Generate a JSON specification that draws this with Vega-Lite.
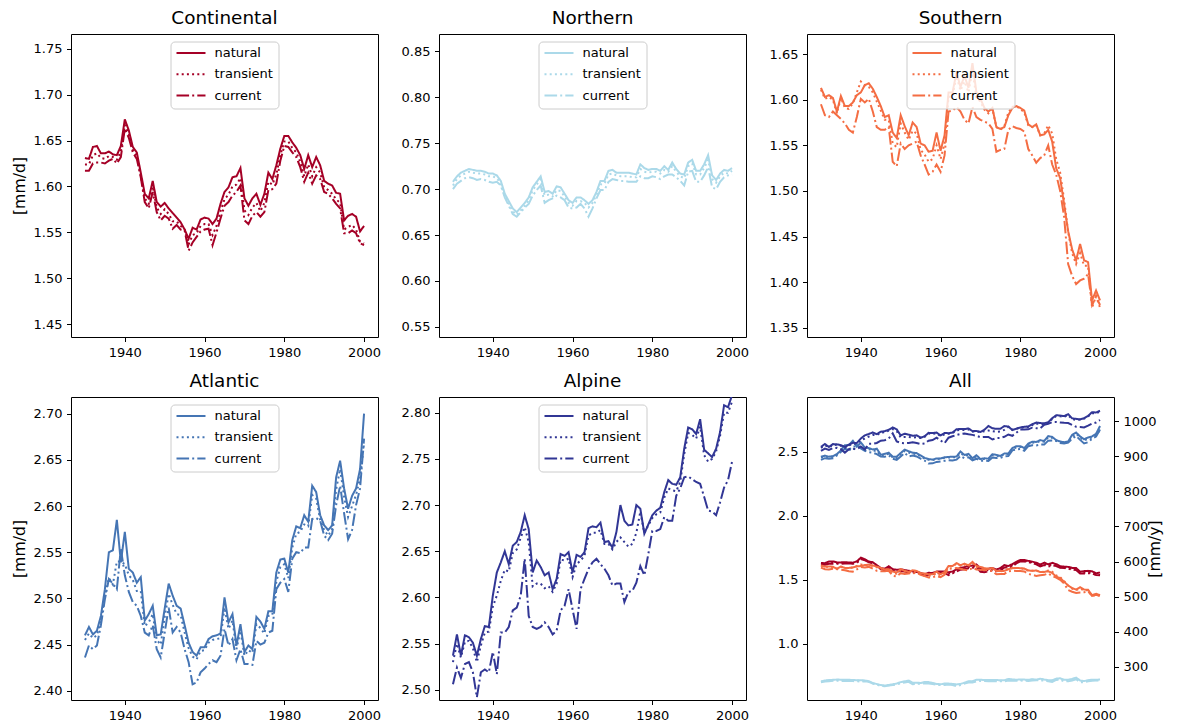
{
  "$schema": "https://vega.github.io/schema/vega-lite/v6.json",
  "padding": {"left": 10, "top": 8, "right": 4, "bottom": 4},
  "data": {
    "values": [
      {"region":"Continental","year":1930,"natural":1.631,"transient":1.624,"current":1.617},
      {"region":"Continental","year":1931,"natural":1.630,"transient":1.624,"current":1.617},
      {"region":"Continental","year":1932,"natural":1.643,"transient":1.634,"current":1.625},
      {"region":"Continental","year":1933,"natural":1.644,"transient":1.636,"current":1.626},
      {"region":"Continental","year":1934,"natural":1.636,"transient":1.631,"current":1.626},
      {"region":"Continental","year":1935,"natural":1.636,"transient":1.630,"current":1.625},
      {"region":"Continental","year":1936,"natural":1.638,"transient":1.633,"current":1.628},
      {"region":"Continental","year":1937,"natural":1.635,"transient":1.632,"current":1.630},
      {"region":"Continental","year":1938,"natural":1.634,"transient":1.629,"current":1.625},
      {"region":"Continental","year":1939,"natural":1.644,"transient":1.638,"current":1.632},
      {"region":"Continental","year":1940,"natural":1.673,"transient":1.667,"current":1.663},
      {"region":"Continental","year":1941,"natural":1.661,"transient":1.657,"current":1.653},
      {"region":"Continental","year":1942,"natural":1.643,"transient":1.640,"current":1.637},
      {"region":"Continental","year":1943,"natural":1.637,"transient":1.633,"current":1.630},
      {"region":"Continental","year":1944,"natural":1.615,"transient":1.612,"current":1.610},
      {"region":"Continental","year":1945,"natural":1.592,"transient":1.587,"current":1.583},
      {"region":"Continental","year":1946,"natural":1.587,"transient":1.581,"current":1.576},
      {"region":"Continental","year":1947,"natural":1.606,"transient":1.600,"current":1.594},
      {"region":"Continental","year":1948,"natural":1.583,"transient":1.577,"current":1.572},
      {"region":"Continental","year":1949,"natural":1.578,"transient":1.570,"current":1.563},
      {"region":"Continental","year":1950,"natural":1.582,"transient":1.575,"current":1.568},
      {"region":"Continental","year":1951,"natural":1.576,"transient":1.570,"current":1.565},
      {"region":"Continental","year":1952,"natural":1.571,"transient":1.562,"current":1.554},
      {"region":"Continental","year":1953,"natural":1.566,"transient":1.562,"current":1.558},
      {"region":"Continental","year":1954,"natural":1.561,"transient":1.557,"current":1.553},
      {"region":"Continental","year":1955,"natural":1.553,"transient":1.553,"current":1.552},
      {"region":"Continental","year":1956,"natural":1.543,"transient":1.537,"current":1.530},
      {"region":"Continental","year":1957,"natural":1.555,"transient":1.547,"current":1.539},
      {"region":"Continental","year":1958,"natural":1.553,"transient":1.549,"current":1.545},
      {"region":"Continental","year":1959,"natural":1.564,"transient":1.557,"current":1.551},
      {"region":"Continental","year":1960,"natural":1.566,"transient":1.559,"current":1.553},
      {"region":"Continental","year":1961,"natural":1.565,"transient":1.559,"current":1.554},
      {"region":"Continental","year":1962,"natural":1.559,"transient":1.547,"current":1.536},
      {"region":"Continental","year":1963,"natural":1.565,"transient":1.557,"current":1.550},
      {"region":"Continental","year":1964,"natural":1.581,"transient":1.573,"current":1.565},
      {"region":"Continental","year":1965,"natural":1.594,"transient":1.586,"current":1.579},
      {"region":"Continental","year":1966,"natural":1.599,"transient":1.591,"current":1.583},
      {"region":"Continental","year":1967,"natural":1.610,"transient":1.600,"current":1.590},
      {"region":"Continental","year":1968,"natural":1.611,"transient":1.602,"current":1.594},
      {"region":"Continental","year":1969,"natural":1.620,"transient":1.609,"current":1.601},
      {"region":"Continental","year":1970,"natural":1.587,"transient":1.574,"current":1.563},
      {"region":"Continental","year":1971,"natural":1.579,"transient":1.569,"current":1.559},
      {"region":"Continental","year":1972,"natural":1.587,"transient":1.577,"current":1.568},
      {"region":"Continental","year":1973,"natural":1.592,"transient":1.582,"current":1.572},
      {"region":"Continental","year":1974,"natural":1.580,"transient":1.573,"current":1.567},
      {"region":"Continental","year":1975,"natural":1.592,"transient":1.582,"current":1.572},
      {"region":"Continental","year":1976,"natural":1.615,"transient":1.605,"current":1.596},
      {"region":"Continental","year":1977,"natural":1.608,"transient":1.602,"current":1.597},
      {"region":"Continental","year":1978,"natural":1.623,"transient":1.613,"current":1.603},
      {"region":"Continental","year":1979,"natural":1.641,"transient":1.634,"current":1.628},
      {"region":"Continental","year":1980,"natural":1.655,"transient":1.649,"current":1.644},
      {"region":"Continental","year":1981,"natural":1.655,"transient":1.649,"current":1.643},
      {"region":"Continental","year":1982,"natural":1.648,"transient":1.642,"current":1.637},
      {"region":"Continental","year":1983,"natural":1.642,"transient":1.637,"current":1.632},
      {"region":"Continental","year":1984,"natural":1.634,"transient":1.627,"current":1.621},
      {"region":"Continental","year":1985,"natural":1.619,"transient":1.611,"current":1.605},
      {"region":"Continental","year":1986,"natural":1.634,"transient":1.624,"current":1.615},
      {"region":"Continental","year":1987,"natural":1.621,"transient":1.611,"current":1.603},
      {"region":"Continental","year":1988,"natural":1.632,"transient":1.621,"current":1.612},
      {"region":"Continental","year":1989,"natural":1.623,"transient":1.615,"current":1.608},
      {"region":"Continental","year":1990,"natural":1.606,"transient":1.599,"current":1.594},
      {"region":"Continental","year":1991,"natural":1.603,"transient":1.596,"current":1.592},
      {"region":"Continental","year":1992,"natural":1.601,"transient":1.592,"current":1.587},
      {"region":"Continental","year":1993,"natural":1.593,"transient":1.586,"current":1.581},
      {"region":"Continental","year":1994,"natural":1.592,"transient":1.582,"current":1.576},
      {"region":"Continental","year":1995,"natural":1.563,"transient":1.553,"current":1.549},
      {"region":"Continental","year":1996,"natural":1.568,"transient":1.556,"current":1.549},
      {"region":"Continental","year":1997,"natural":1.570,"transient":1.558,"current":1.552},
      {"region":"Continental","year":1998,"natural":1.567,"transient":1.553,"current":1.549},
      {"region":"Continental","year":1999,"natural":1.551,"transient":1.540,"current":1.538},
      {"region":"Continental","year":2000,"natural":1.557,"transient":1.538,"current":1.536},

      {"region":"Northern","year":1930,"natural":0.708,"transient":0.704,"current":0.700},
      {"region":"Northern","year":1931,"natural":0.714,"transient":0.711,"current":0.706},
      {"region":"Northern","year":1932,"natural":0.718,"transient":0.715,"current":0.709},
      {"region":"Northern","year":1933,"natural":0.720,"transient":0.717,"current":0.712},
      {"region":"Northern","year":1934,"natural":0.722,"transient":0.719,"current":0.713},
      {"region":"Northern","year":1935,"natural":0.721,"transient":0.718,"current":0.712},
      {"region":"Northern","year":1936,"natural":0.720,"transient":0.717,"current":0.710},
      {"region":"Northern","year":1937,"natural":0.720,"transient":0.717,"current":0.711},
      {"region":"Northern","year":1938,"natural":0.719,"transient":0.716,"current":0.710},
      {"region":"Northern","year":1939,"natural":0.717,"transient":0.714,"current":0.708},
      {"region":"Northern","year":1940,"natural":0.717,"transient":0.714,"current":0.707},
      {"region":"Northern","year":1941,"natural":0.715,"transient":0.712,"current":0.708},
      {"region":"Northern","year":1942,"natural":0.709,"transient":0.706,"current":0.704},
      {"region":"Northern","year":1943,"natural":0.695,"transient":0.692,"current":0.691},
      {"region":"Northern","year":1944,"natural":0.687,"transient":0.684,"current":0.682},
      {"region":"Northern","year":1945,"natural":0.679,"transient":0.676,"current":0.673},
      {"region":"Northern","year":1946,"natural":0.675,"transient":0.672,"current":0.670},
      {"region":"Northern","year":1947,"natural":0.680,"transient":0.677,"current":0.675},
      {"region":"Northern","year":1948,"natural":0.685,"transient":0.682,"current":0.680},
      {"region":"Northern","year":1949,"natural":0.691,"transient":0.688,"current":0.684},
      {"region":"Northern","year":1950,"natural":0.702,"transient":0.699,"current":0.693},
      {"region":"Northern","year":1951,"natural":0.708,"transient":0.705,"current":0.699},
      {"region":"Northern","year":1952,"natural":0.714,"transient":0.711,"current":0.704},
      {"region":"Northern","year":1953,"natural":0.697,"transient":0.693,"current":0.685},
      {"region":"Northern","year":1954,"natural":0.698,"transient":0.694,"current":0.688},
      {"region":"Northern","year":1955,"natural":0.695,"transient":0.692,"current":0.690},
      {"region":"Northern","year":1956,"natural":0.703,"transient":0.699,"current":0.693},
      {"region":"Northern","year":1957,"natural":0.702,"transient":0.698,"current":0.691},
      {"region":"Northern","year":1958,"natural":0.695,"transient":0.692,"current":0.688},
      {"region":"Northern","year":1959,"natural":0.688,"transient":0.685,"current":0.680},
      {"region":"Northern","year":1960,"natural":0.685,"transient":0.682,"current":0.679},
      {"region":"Northern","year":1961,"natural":0.691,"transient":0.687,"current":0.680},
      {"region":"Northern","year":1962,"natural":0.691,"transient":0.687,"current":0.684},
      {"region":"Northern","year":1963,"natural":0.688,"transient":0.685,"current":0.679},
      {"region":"Northern","year":1964,"natural":0.684,"transient":0.680,"current":0.670},
      {"region":"Northern","year":1965,"natural":0.688,"transient":0.685,"current":0.679},
      {"region":"Northern","year":1966,"natural":0.697,"transient":0.694,"current":0.690},
      {"region":"Northern","year":1967,"natural":0.709,"transient":0.705,"current":0.699},
      {"region":"Northern","year":1968,"natural":0.709,"transient":0.706,"current":0.699},
      {"region":"Northern","year":1969,"natural":0.720,"transient":0.716,"current":0.708},
      {"region":"Northern","year":1970,"natural":0.721,"transient":0.717,"current":0.711},
      {"region":"Northern","year":1971,"natural":0.718,"transient":0.715,"current":0.710},
      {"region":"Northern","year":1972,"natural":0.718,"transient":0.714,"current":0.709},
      {"region":"Northern","year":1973,"natural":0.718,"transient":0.714,"current":0.709},
      {"region":"Northern","year":1974,"natural":0.718,"transient":0.714,"current":0.708},
      {"region":"Northern","year":1975,"natural":0.717,"transient":0.713,"current":0.708},
      {"region":"Northern","year":1976,"natural":0.716,"transient":0.713,"current":0.708},
      {"region":"Northern","year":1977,"natural":0.727,"transient":0.722,"current":0.714},
      {"region":"Northern","year":1978,"natural":0.723,"transient":0.719,"current":0.712},
      {"region":"Northern","year":1979,"natural":0.721,"transient":0.718,"current":0.712},
      {"region":"Northern","year":1980,"natural":0.722,"transient":0.719,"current":0.714},
      {"region":"Northern","year":1981,"natural":0.722,"transient":0.719,"current":0.713},
      {"region":"Northern","year":1982,"natural":0.720,"transient":0.717,"current":0.711},
      {"region":"Northern","year":1983,"natural":0.725,"transient":0.721,"current":0.714},
      {"region":"Northern","year":1984,"natural":0.721,"transient":0.719,"current":0.716},
      {"region":"Northern","year":1985,"natural":0.729,"transient":0.725,"current":0.716},
      {"region":"Northern","year":1986,"natural":0.722,"transient":0.719,"current":0.713},
      {"region":"Northern","year":1987,"natural":0.717,"transient":0.714,"current":0.709},
      {"region":"Northern","year":1988,"natural":0.716,"transient":0.712,"current":0.704},
      {"region":"Northern","year":1989,"natural":0.729,"transient":0.725,"current":0.719},
      {"region":"Northern","year":1990,"natural":0.732,"transient":0.728,"current":0.720},
      {"region":"Northern","year":1991,"natural":0.720,"transient":0.716,"current":0.708},
      {"region":"Northern","year":1992,"natural":0.720,"transient":0.716,"current":0.708},
      {"region":"Northern","year":1993,"natural":0.727,"transient":0.723,"current":0.715},
      {"region":"Northern","year":1994,"natural":0.737,"transient":0.732,"current":0.724},
      {"region":"Northern","year":1995,"natural":0.715,"transient":0.711,"current":0.702},
      {"region":"Northern","year":1996,"natural":0.710,"transient":0.707,"current":0.700},
      {"region":"Northern","year":1997,"natural":0.717,"transient":0.714,"current":0.708},
      {"region":"Northern","year":1998,"natural":0.721,"transient":0.718,"current":0.713},
      {"region":"Northern","year":1999,"natural":0.720,"transient":0.717,"current":0.715},
      {"region":"Northern","year":2000,"natural":0.723,"transient":0.720,"current":0.716},

      {"region":"Southern","year":1930,"natural":1.613,"transient":1.611,"current":1.595},
      {"region":"Southern","year":1931,"natural":1.603,"transient":1.601,"current":1.583},
      {"region":"Southern","year":1932,"natural":1.605,"transient":1.603,"current":1.581},
      {"region":"Southern","year":1933,"natural":1.602,"transient":1.600,"current":1.587},
      {"region":"Southern","year":1934,"natural":1.587,"transient":1.585,"current":1.583},
      {"region":"Southern","year":1935,"natural":1.604,"transient":1.602,"current":1.579},
      {"region":"Southern","year":1936,"natural":1.593,"transient":1.591,"current":1.574},
      {"region":"Southern","year":1937,"natural":1.593,"transient":1.590,"current":1.567},
      {"region":"Southern","year":1938,"natural":1.597,"transient":1.596,"current":1.564},
      {"region":"Southern","year":1939,"natural":1.605,"transient":1.608,"current":1.581},
      {"region":"Southern","year":1940,"natural":1.608,"transient":1.620,"current":1.601},
      {"region":"Southern","year":1941,"natural":1.616,"transient":1.616,"current":1.597},
      {"region":"Southern","year":1942,"natural":1.618,"transient":1.614,"current":1.601},
      {"region":"Southern","year":1943,"natural":1.612,"transient":1.608,"current":1.587},
      {"region":"Southern","year":1944,"natural":1.603,"transient":1.598,"current":1.570},
      {"region":"Southern","year":1945,"natural":1.593,"transient":1.588,"current":1.567},
      {"region":"Southern","year":1946,"natural":1.581,"transient":1.578,"current":1.567},
      {"region":"Southern","year":1947,"natural":1.583,"transient":1.578,"current":1.570},
      {"region":"Southern","year":1948,"natural":1.564,"transient":1.552,"current":1.532},
      {"region":"Southern","year":1949,"natural":1.558,"transient":1.548,"current":1.527},
      {"region":"Southern","year":1950,"natural":1.583,"transient":1.574,"current":1.552},
      {"region":"Southern","year":1951,"natural":1.571,"transient":1.564,"current":1.546},
      {"region":"Southern","year":1952,"natural":1.561,"transient":1.556,"current":1.550},
      {"region":"Southern","year":1953,"natural":1.575,"transient":1.566,"current":1.552},
      {"region":"Southern","year":1954,"natural":1.570,"transient":1.563,"current":1.554},
      {"region":"Southern","year":1955,"natural":1.552,"transient":1.545,"current":1.539},
      {"region":"Southern","year":1956,"natural":1.550,"transient":1.540,"current":1.529},
      {"region":"Southern","year":1957,"natural":1.543,"transient":1.532,"current":1.518},
      {"region":"Southern","year":1958,"natural":1.544,"transient":1.535,"current":1.521},
      {"region":"Southern","year":1959,"natural":1.564,"transient":1.550,"current":1.529},
      {"region":"Southern","year":1960,"natural":1.544,"transient":1.535,"current":1.521},
      {"region":"Southern","year":1961,"natural":1.561,"transient":1.552,"current":1.539},
      {"region":"Southern","year":1962,"natural":1.608,"transient":1.603,"current":1.587},
      {"region":"Southern","year":1963,"natural":1.608,"transient":1.604,"current":1.588},
      {"region":"Southern","year":1964,"natural":1.630,"transient":1.626,"current":1.592},
      {"region":"Southern","year":1965,"natural":1.614,"transient":1.610,"current":1.587},
      {"region":"Southern","year":1966,"natural":1.626,"transient":1.620,"current":1.578},
      {"region":"Southern","year":1967,"natural":1.613,"transient":1.608,"current":1.574},
      {"region":"Southern","year":1968,"natural":1.640,"transient":1.632,"current":1.592},
      {"region":"Southern","year":1969,"natural":1.608,"transient":1.602,"current":1.581},
      {"region":"Southern","year":1970,"natural":1.601,"transient":1.598,"current":1.578},
      {"region":"Southern","year":1971,"natural":1.591,"transient":1.589,"current":1.576},
      {"region":"Southern","year":1972,"natural":1.587,"transient":1.585,"current":1.574},
      {"region":"Southern","year":1973,"natural":1.591,"transient":1.590,"current":1.568},
      {"region":"Southern","year":1974,"natural":1.570,"transient":1.570,"current":1.543},
      {"region":"Southern","year":1975,"natural":1.568,"transient":1.567,"current":1.545},
      {"region":"Southern","year":1976,"natural":1.570,"transient":1.571,"current":1.546},
      {"region":"Southern","year":1977,"natural":1.583,"transient":1.586,"current":1.567},
      {"region":"Southern","year":1978,"natural":1.591,"transient":1.592,"current":1.571},
      {"region":"Southern","year":1979,"natural":1.593,"transient":1.593,"current":1.569},
      {"region":"Southern","year":1980,"natural":1.591,"transient":1.590,"current":1.568},
      {"region":"Southern","year":1981,"natural":1.588,"transient":1.586,"current":1.565},
      {"region":"Southern","year":1982,"natural":1.573,"transient":1.572,"current":1.546},
      {"region":"Southern","year":1983,"natural":1.570,"transient":1.570,"current":1.539},
      {"region":"Southern","year":1984,"natural":1.573,"transient":1.572,"current":1.531},
      {"region":"Southern","year":1985,"natural":1.561,"transient":1.561,"current":1.536},
      {"region":"Southern","year":1986,"natural":1.562,"transient":1.563,"current":1.539},
      {"region":"Southern","year":1987,"natural":1.567,"transient":1.572,"current":1.550},
      {"region":"Southern","year":1988,"natural":1.554,"transient":1.563,"current":1.529},
      {"region":"Southern","year":1989,"natural":1.525,"transient":1.535,"current":1.518},
      {"region":"Southern","year":1990,"natural":1.514,"transient":1.520,"current":1.500},
      {"region":"Southern","year":1991,"natural":1.485,"transient":1.490,"current":1.471},
      {"region":"Southern","year":1992,"natural":1.456,"transient":1.455,"current":1.420},
      {"region":"Southern","year":1993,"natural":1.436,"transient":1.432,"current":1.407},
      {"region":"Southern","year":1994,"natural":1.424,"transient":1.420,"current":1.398},
      {"region":"Southern","year":1995,"natural":1.442,"transient":1.432,"current":1.402},
      {"region":"Southern","year":1996,"natural":1.424,"transient":1.418,"current":1.404},
      {"region":"Southern","year":1997,"natural":1.422,"transient":1.418,"current":1.409},
      {"region":"Southern","year":1998,"natural":1.380,"transient":1.372,"current":1.375},
      {"region":"Southern","year":1999,"natural":1.391,"transient":1.385,"current":1.384},
      {"region":"Southern","year":2000,"natural":1.380,"transient":1.372,"current":1.375},

      {"region":"Atlantic","year":1930,"natural":2.460,"transient":2.455,"current":2.436},
      {"region":"Atlantic","year":1931,"natural":2.469,"transient":2.462,"current":2.449},
      {"region":"Atlantic","year":1932,"natural":2.461,"transient":2.457,"current":2.445},
      {"region":"Atlantic","year":1933,"natural":2.465,"transient":2.460,"current":2.449},
      {"region":"Atlantic","year":1934,"natural":2.481,"transient":2.476,"current":2.471},
      {"region":"Atlantic","year":1935,"natural":2.510,"transient":2.503,"current":2.499},
      {"region":"Atlantic","year":1936,"natural":2.550,"transient":2.522,"current":2.521},
      {"region":"Atlantic","year":1937,"natural":2.552,"transient":2.515,"current":2.516},
      {"region":"Atlantic","year":1938,"natural":2.585,"transient":2.540,"current":2.510},
      {"region":"Atlantic","year":1939,"natural":2.539,"transient":2.540,"current":2.554},
      {"region":"Atlantic","year":1940,"natural":2.572,"transient":2.537,"current":2.525},
      {"region":"Atlantic","year":1941,"natural":2.532,"transient":2.525,"current":2.507},
      {"region":"Atlantic","year":1942,"natural":2.528,"transient":2.520,"current":2.496},
      {"region":"Atlantic","year":1943,"natural":2.517,"transient":2.508,"current":2.492},
      {"region":"Atlantic","year":1944,"natural":2.523,"transient":2.508,"current":2.481},
      {"region":"Atlantic","year":1945,"natural":2.476,"transient":2.470,"current":2.463},
      {"region":"Atlantic","year":1946,"natural":2.483,"transient":2.474,"current":2.460},
      {"region":"Atlantic","year":1947,"natural":2.492,"transient":2.483,"current":2.471},
      {"region":"Atlantic","year":1948,"natural":2.460,"transient":2.455,"current":2.445},
      {"region":"Atlantic","year":1949,"natural":2.461,"transient":2.450,"current":2.436},
      {"region":"Atlantic","year":1950,"natural":2.489,"transient":2.480,"current":2.463},
      {"region":"Atlantic","year":1951,"natural":2.516,"transient":2.505,"current":2.490},
      {"region":"Atlantic","year":1952,"natural":2.503,"transient":2.493,"current":2.463},
      {"region":"Atlantic","year":1953,"natural":2.492,"transient":2.483,"current":2.469},
      {"region":"Atlantic","year":1954,"natural":2.489,"transient":2.482,"current":2.463},
      {"region":"Atlantic","year":1955,"natural":2.471,"transient":2.463,"current":2.445},
      {"region":"Atlantic","year":1956,"natural":2.452,"transient":2.446,"current":2.431},
      {"region":"Atlantic","year":1957,"natural":2.442,"transient":2.437,"current":2.407},
      {"region":"Atlantic","year":1958,"natural":2.438,"transient":2.434,"current":2.409},
      {"region":"Atlantic","year":1959,"natural":2.447,"transient":2.443,"current":2.420},
      {"region":"Atlantic","year":1960,"natural":2.447,"transient":2.444,"current":2.424},
      {"region":"Atlantic","year":1961,"natural":2.456,"transient":2.452,"current":2.429},
      {"region":"Atlantic","year":1962,"natural":2.459,"transient":2.455,"current":2.433},
      {"region":"Atlantic","year":1963,"natural":2.460,"transient":2.456,"current":2.431},
      {"region":"Atlantic","year":1964,"natural":2.462,"transient":2.457,"current":2.438},
      {"region":"Atlantic","year":1965,"natural":2.501,"transient":2.490,"current":2.467},
      {"region":"Atlantic","year":1966,"natural":2.474,"transient":2.467,"current":2.449},
      {"region":"Atlantic","year":1967,"natural":2.483,"transient":2.476,"current":2.456},
      {"region":"Atlantic","year":1968,"natural":2.449,"transient":2.445,"current":2.433},
      {"region":"Atlantic","year":1969,"natural":2.472,"transient":2.465,"current":2.445},
      {"region":"Atlantic","year":1970,"natural":2.442,"transient":2.438,"current":2.429},
      {"region":"Atlantic","year":1971,"natural":2.449,"transient":2.444,"current":2.429},
      {"region":"Atlantic","year":1972,"natural":2.445,"transient":2.441,"current":2.428},
      {"region":"Atlantic","year":1973,"natural":2.480,"transient":2.472,"current":2.454},
      {"region":"Atlantic","year":1974,"natural":2.475,"transient":2.468,"current":2.450},
      {"region":"Atlantic","year":1975,"natural":2.467,"transient":2.462,"current":2.452},
      {"region":"Atlantic","year":1976,"natural":2.486,"transient":2.481,"current":2.463},
      {"region":"Atlantic","year":1977,"natural":2.486,"transient":2.482,"current":2.465},
      {"region":"Atlantic","year":1978,"natural":2.528,"transient":2.518,"current":2.510},
      {"region":"Atlantic","year":1979,"natural":2.542,"transient":2.534,"current":2.517},
      {"region":"Atlantic","year":1980,"natural":2.543,"transient":2.537,"current":2.521},
      {"region":"Atlantic","year":1981,"natural":2.528,"transient":2.522,"current":2.507},
      {"region":"Atlantic","year":1982,"natural":2.563,"transient":2.555,"current":2.543},
      {"region":"Atlantic","year":1983,"natural":2.578,"transient":2.570,"current":2.550},
      {"region":"Atlantic","year":1984,"natural":2.576,"transient":2.572,"current":2.549},
      {"region":"Atlantic","year":1985,"natural":2.590,"transient":2.580,"current":2.555},
      {"region":"Atlantic","year":1986,"natural":2.583,"transient":2.578,"current":2.555},
      {"region":"Atlantic","year":1987,"natural":2.622,"transient":2.612,"current":2.586},
      {"region":"Atlantic","year":1988,"natural":2.615,"transient":2.608,"current":2.587},
      {"region":"Atlantic","year":1989,"natural":2.590,"transient":2.585,"current":2.584},
      {"region":"Atlantic","year":1990,"natural":2.579,"transient":2.574,"current":2.568},
      {"region":"Atlantic","year":1991,"natural":2.574,"transient":2.568,"current":2.563},
      {"region":"Atlantic","year":1992,"natural":2.579,"transient":2.575,"current":2.570},
      {"region":"Atlantic","year":1993,"natural":2.631,"transient":2.618,"current":2.601},
      {"region":"Atlantic","year":1994,"natural":2.649,"transient":2.640,"current":2.622},
      {"region":"Atlantic","year":1995,"natural":2.619,"transient":2.610,"current":2.592},
      {"region":"Atlantic","year":1996,"natural":2.597,"transient":2.588,"current":2.564},
      {"region":"Atlantic","year":1997,"natural":2.611,"transient":2.600,"current":2.574},
      {"region":"Atlantic","year":1998,"natural":2.619,"transient":2.612,"current":2.601},
      {"region":"Atlantic","year":1999,"natural":2.640,"transient":2.630,"current":2.619},
      {"region":"Atlantic","year":2000,"natural":2.700,"transient":2.668,"current":2.673},

      {"region":"Alpine","year":1930,"natural":2.537,"transient":2.530,"current":2.506},
      {"region":"Alpine","year":1931,"natural":2.560,"transient":2.550,"current":2.524},
      {"region":"Alpine","year":1932,"natural":2.537,"transient":2.535,"current":2.513},
      {"region":"Alpine","year":1933,"natural":2.559,"transient":2.552,"current":2.528},
      {"region":"Alpine","year":1934,"natural":2.557,"transient":2.553,"current":2.530},
      {"region":"Alpine","year":1935,"natural":2.551,"transient":2.545,"current":2.519},
      {"region":"Alpine","year":1936,"natural":2.537,"transient":2.530,"current":2.492},
      {"region":"Alpine","year":1937,"natural":2.555,"transient":2.548,"current":2.519},
      {"region":"Alpine","year":1938,"natural":2.569,"transient":2.562,"current":2.522},
      {"region":"Alpine","year":1939,"natural":2.568,"transient":2.563,"current":2.519},
      {"region":"Alpine","year":1940,"natural":2.602,"transient":2.590,"current":2.541},
      {"region":"Alpine","year":1941,"natural":2.627,"transient":2.602,"current":2.517},
      {"region":"Alpine","year":1942,"natural":2.638,"transient":2.618,"current":2.562},
      {"region":"Alpine","year":1943,"natural":2.650,"transient":2.630,"current":2.562},
      {"region":"Alpine","year":1944,"natural":2.636,"transient":2.628,"current":2.568},
      {"region":"Alpine","year":1945,"natural":2.656,"transient":2.648,"current":2.586},
      {"region":"Alpine","year":1946,"natural":2.660,"transient":2.652,"current":2.589},
      {"region":"Alpine","year":1947,"natural":2.671,"transient":2.665,"current":2.602},
      {"region":"Alpine","year":1948,"natural":2.689,"transient":2.676,"current":2.642},
      {"region":"Alpine","year":1949,"natural":2.674,"transient":2.660,"current":2.580},
      {"region":"Alpine","year":1950,"natural":2.627,"transient":2.612,"current":2.568},
      {"region":"Alpine","year":1951,"natural":2.640,"transient":2.615,"current":2.566},
      {"region":"Alpine","year":1952,"natural":2.633,"transient":2.615,"current":2.568},
      {"region":"Alpine","year":1953,"natural":2.624,"transient":2.610,"current":2.573},
      {"region":"Alpine","year":1954,"natural":2.627,"transient":2.612,"current":2.568},
      {"region":"Alpine","year":1955,"natural":2.609,"transient":2.606,"current":2.560},
      {"region":"Alpine","year":1956,"natural":2.620,"transient":2.615,"current":2.564},
      {"region":"Alpine","year":1957,"natural":2.647,"transient":2.641,"current":2.586},
      {"region":"Alpine","year":1958,"natural":2.645,"transient":2.640,"current":2.591},
      {"region":"Alpine","year":1959,"natural":2.649,"transient":2.642,"current":2.609},
      {"region":"Alpine","year":1960,"natural":2.627,"transient":2.622,"current":2.587},
      {"region":"Alpine","year":1961,"natural":2.646,"transient":2.636,"current":2.566},
      {"region":"Alpine","year":1962,"natural":2.644,"transient":2.640,"current":2.609},
      {"region":"Alpine","year":1963,"natural":2.649,"transient":2.645,"current":2.620},
      {"region":"Alpine","year":1964,"natural":2.675,"transient":2.667,"current":2.631},
      {"region":"Alpine","year":1965,"natural":2.677,"transient":2.670,"current":2.638},
      {"region":"Alpine","year":1966,"natural":2.676,"transient":2.670,"current":2.642},
      {"region":"Alpine","year":1967,"natural":2.681,"transient":2.673,"current":2.636},
      {"region":"Alpine","year":1968,"natural":2.660,"transient":2.658,"current":2.631},
      {"region":"Alpine","year":1969,"natural":2.661,"transient":2.658,"current":2.624},
      {"region":"Alpine","year":1970,"natural":2.654,"transient":2.652,"current":2.613},
      {"region":"Alpine","year":1971,"natural":2.671,"transient":2.660,"current":2.615},
      {"region":"Alpine","year":1972,"natural":2.700,"transient":2.665,"current":2.615},
      {"region":"Alpine","year":1973,"natural":2.683,"transient":2.660,"current":2.595},
      {"region":"Alpine","year":1974,"natural":2.678,"transient":2.655,"current":2.606},
      {"region":"Alpine","year":1975,"natural":2.679,"transient":2.658,"current":2.607},
      {"region":"Alpine","year":1976,"natural":2.700,"transient":2.670,"current":2.616},
      {"region":"Alpine","year":1977,"natural":2.696,"transient":2.693,"current":2.634},
      {"region":"Alpine","year":1978,"natural":2.669,"transient":2.670,"current":2.624},
      {"region":"Alpine","year":1979,"natural":2.679,"transient":2.678,"current":2.647},
      {"region":"Alpine","year":1980,"natural":2.689,"transient":2.686,"current":2.672},
      {"region":"Alpine","year":1981,"natural":2.694,"transient":2.690,"current":2.672},
      {"region":"Alpine","year":1982,"natural":2.697,"transient":2.692,"current":2.674},
      {"region":"Alpine","year":1983,"natural":2.714,"transient":2.708,"current":2.687},
      {"region":"Alpine","year":1984,"natural":2.727,"transient":2.718,"current":2.683},
      {"region":"Alpine","year":1985,"natural":2.723,"transient":2.716,"current":2.683},
      {"region":"Alpine","year":1986,"natural":2.722,"transient":2.715,"current":2.710},
      {"region":"Alpine","year":1987,"natural":2.730,"transient":2.725,"current":2.718},
      {"region":"Alpine","year":1988,"natural":2.761,"transient":2.755,"current":2.730},
      {"region":"Alpine","year":1989,"natural":2.784,"transient":2.778,"current":2.731},
      {"region":"Alpine","year":1990,"natural":2.782,"transient":2.776,"current":2.728},
      {"region":"Alpine","year":1991,"natural":2.777,"transient":2.772,"current":2.725},
      {"region":"Alpine","year":1992,"natural":2.793,"transient":2.785,"current":2.723},
      {"region":"Alpine","year":1993,"natural":2.760,"transient":2.754,"current":2.709},
      {"region":"Alpine","year":1994,"natural":2.756,"transient":2.747,"current":2.694},
      {"region":"Alpine","year":1995,"natural":2.752,"transient":2.750,"current":2.693},
      {"region":"Alpine","year":1996,"natural":2.761,"transient":2.758,"current":2.689},
      {"region":"Alpine","year":1997,"natural":2.779,"transient":2.775,"current":2.703},
      {"region":"Alpine","year":1998,"natural":2.808,"transient":2.800,"current":2.719},
      {"region":"Alpine","year":1999,"natural":2.806,"transient":2.800,"current":2.727},
      {"region":"Alpine","year":2000,"natural":2.819,"transient":2.812,"current":2.747}
    ]
  },
  "columns": 3,
  "spacing": {"row": 60, "column": 61},
  "bounds": "flush",
  "resolve": {
    "scale": {"x": "independent", "y": "independent", "strokeDash": "independent", "color": "independent"},
    "legend": {"strokeDash": "independent"}
  },
  "concat": [
    {
      "width": 307, "height": 303,
      "title": {"text": "Continental"},
      "transform": [
        {"filter": "datum.region === 'Continental'"},
        {"fold": ["natural", "transient", "current"], "as": ["scenario", "value"]}
      ],
      "mark": {"type": "line", "color": "#a50026", "strokeWidth": 2, "clip": true},
      "encoding": {
        "x": {"field": "year", "type": "quantitative", "scale": {"domain": [1926.5, 2003.5], "nice": false, "zero": false}, "axis": {"values": [1940, 1960, 1980, 2000], "format": "d", "title": null}},
        "y": {"field": "value", "type": "quantitative", "scale": {"domain": [1.436, 1.766], "nice": false, "zero": false}, "axis": {"values": [1.45, 1.5, 1.55, 1.6, 1.65, 1.7, 1.75], "format": ".2f", "title": "[mm/d]"}},
        "strokeDash": {"field": "scenario", "type": "nominal", "scale": {"domain": ["natural", "transient", "current"], "range": [[1, 0], [2, 3.2], [12.6, 3.1, 2, 3.1]]}, "legend": {"title": null, "symbolStrokeColor": "#a50026"}}
      }
    },
    {
      "width": 307, "height": 303,
      "title": {"text": "Northern"},
      "transform": [
        {"filter": "datum.region === 'Northern'"},
        {"fold": ["natural", "transient", "current"], "as": ["scenario", "value"]}
      ],
      "mark": {"type": "line", "color": "#abd9e9", "strokeWidth": 2, "clip": true},
      "encoding": {
        "x": {"field": "year", "type": "quantitative", "scale": {"domain": [1926.5, 2003.5], "nice": false, "zero": false}, "axis": {"values": [1940, 1960, 1980, 2000], "format": "d", "title": null}},
        "y": {"field": "value", "type": "quantitative", "scale": {"domain": [0.539, 0.869], "nice": false, "zero": false}, "axis": {"values": [0.55, 0.6, 0.65, 0.7, 0.75, 0.8, 0.85], "format": ".2f", "title": null}},
        "strokeDash": {"field": "scenario", "type": "nominal", "scale": {"domain": ["natural", "transient", "current"], "range": [[1, 0], [2, 3.2], [12.6, 3.1, 2, 3.1]]}, "legend": {"title": null, "symbolStrokeColor": "#abd9e9"}}
      }
    },
    {
      "width": 307, "height": 303,
      "title": {"text": "Southern"},
      "transform": [
        {"filter": "datum.region === 'Southern'"},
        {"fold": ["natural", "transient", "current"], "as": ["scenario", "value"]}
      ],
      "mark": {"type": "line", "color": "#f46d43", "strokeWidth": 2, "clip": true},
      "encoding": {
        "x": {"field": "year", "type": "quantitative", "scale": {"domain": [1926.5, 2003.5], "nice": false, "zero": false}, "axis": {"values": [1940, 1960, 1980, 2000], "format": "d", "title": null}},
        "y": {"field": "value", "type": "quantitative", "scale": {"domain": [1.340, 1.672], "nice": false, "zero": false}, "axis": {"values": [1.35, 1.4, 1.45, 1.5, 1.55, 1.6, 1.65], "format": ".2f", "title": null}},
        "strokeDash": {"field": "scenario", "type": "nominal", "scale": {"domain": ["natural", "transient", "current"], "range": [[1, 0], [2, 3.2], [12.6, 3.1, 2, 3.1]]}, "legend": {"title": null, "symbolStrokeColor": "#f46d43"}}
      }
    },
    {
      "width": 307, "height": 303,
      "title": {"text": "Atlantic"},
      "transform": [
        {"filter": "datum.region === 'Atlantic'"},
        {"fold": ["natural", "transient", "current"], "as": ["scenario", "value"]}
      ],
      "mark": {"type": "line", "color": "#4575b4", "strokeWidth": 2, "clip": true},
      "encoding": {
        "x": {"field": "year", "type": "quantitative", "scale": {"domain": [1926.5, 2003.5], "nice": false, "zero": false}, "axis": {"values": [1940, 1960, 1980, 2000], "format": "d", "title": null}},
        "y": {"field": "value", "type": "quantitative", "scale": {"domain": [2.390, 2.718], "nice": false, "zero": false}, "axis": {"values": [2.4, 2.45, 2.5, 2.55, 2.6, 2.65, 2.7], "format": ".2f", "title": "[mm/d]"}},
        "strokeDash": {"field": "scenario", "type": "nominal", "scale": {"domain": ["natural", "transient", "current"], "range": [[1, 0], [2, 3.2], [12.6, 3.1, 2, 3.1]]}, "legend": {"title": null, "symbolStrokeColor": "#4575b4"}}
      }
    },
    {
      "width": 307, "height": 303,
      "title": {"text": "Alpine"},
      "transform": [
        {"filter": "datum.region === 'Alpine'"},
        {"fold": ["natural", "transient", "current"], "as": ["scenario", "value"]}
      ],
      "mark": {"type": "line", "color": "#313695", "strokeWidth": 2, "clip": true},
      "encoding": {
        "x": {"field": "year", "type": "quantitative", "scale": {"domain": [1926.5, 2003.5], "nice": false, "zero": false}, "axis": {"values": [1940, 1960, 1980, 2000], "format": "d", "title": null}},
        "y": {"field": "value", "type": "quantitative", "scale": {"domain": [2.489, 2.817], "nice": false, "zero": false}, "axis": {"values": [2.5, 2.55, 2.6, 2.65, 2.7, 2.75, 2.8], "format": ".2f", "title": null}},
        "strokeDash": {"field": "scenario", "type": "nominal", "scale": {"domain": ["natural", "transient", "current"], "range": [[1, 0], [2, 3.2], [12.6, 3.1, 2, 3.1]]}, "legend": {"title": null, "symbolStrokeColor": "#313695"}}
      }
    },
    {
      "width": 307, "height": 303,
      "title": {"text": "All"},
      "transform": [
        {"fold": ["natural", "transient", "current"], "as": ["scenario", "value"]}
      ],
      "layer": [
        {
          "mark": {"type": "line", "strokeWidth": 2, "clip": true},
          "encoding": {
            "x": {"field": "year", "type": "quantitative", "scale": {"domain": [1926.5, 2003.5], "nice": false, "zero": false}, "axis": {"values": [1940, 1960, 1980, 2000], "format": "d", "title": null}},
            "y": {"field": "value", "type": "quantitative", "scale": {"domain": [0.5625, 2.9265], "nice": false, "zero": false}, "axis": {"values": [1.0, 1.5, 2.0, 2.5], "format": ".1f", "title": null}},
            "color": {"field": "region", "type": "nominal", "scale": {"domain": ["Continental", "Northern", "Southern", "Atlantic", "Alpine"], "range": ["#a50026", "#abd9e9", "#f46d43", "#4575b4", "#313695"]}, "legend": null},
            "strokeDash": {"field": "scenario", "type": "nominal", "scale": {"domain": ["natural", "transient", "current"], "range": [[1, 0], [2, 3.2], [12.6, 3.1, 2, 3.1]]}, "legend": null}
          }
        },
        {
          "mark": {"type": "line", "opacity": 0},
          "encoding": {
            "x": {"field": "year", "type": "quantitative"},
            "y": {"field": "value", "type": "quantitative", "scale": {"domain": [0.5625, 2.9265], "nice": false, "zero": false}, "axis": {"orient": "right", "values": [0.82136, 1.09514, 1.36893, 1.64271, 1.91650, 2.19028, 2.46407, 2.73785], "labelExpr": "format(round(datum.value * 365.25), 'd')", "title": "[mm/y]", "titleAngle": 270, "titleBaseline": "bottom"}}
          }
        }
      ],
      "resolve": {"scale": {"y": "independent"}}
    }
  ],
  "config": {
    "font": "DejaVu Sans",
    "view": {"stroke": "black", "strokeWidth": 1},
    "axis": {
      "domain": false, "grid": false, "ticks": true, "tickColor": "black", "tickSize": 4.5, "tickWidth": 1,
      "labelFont": "DejaVu Sans", "labelFontSize": 13, "labelColor": "black", "labelPadding": 4.5,
      "labelFlush": false, "labelOverlap": false,
      "titleFont": "DejaVu Sans", "titleFontSize": 15.7, "titleFontWeight": "normal", "titleColor": "black", "titlePadding": 6
    },
    "legend": {
      "orient": "none", "legendX": 99.5, "legendY": 7.5,
      "padding": 5, "strokeColor": "#cccccc", "fillColor": "rgba(255,255,255,0.8)", "cornerRadius": 4,
      "labelFont": "DejaVu Sans", "labelFontSize": 13, "labelColor": "black", "labelOffset": 8,
      "symbolType": "stroke", "symbolSize": 841, "symbolStrokeWidth": 2, "rowPadding": 7.3, "clipHeight": 13
    },
    "title": {"font": "DejaVu Sans", "fontSize": 18.4, "fontWeight": "normal", "color": "black", "offset": 7}
  }
}
